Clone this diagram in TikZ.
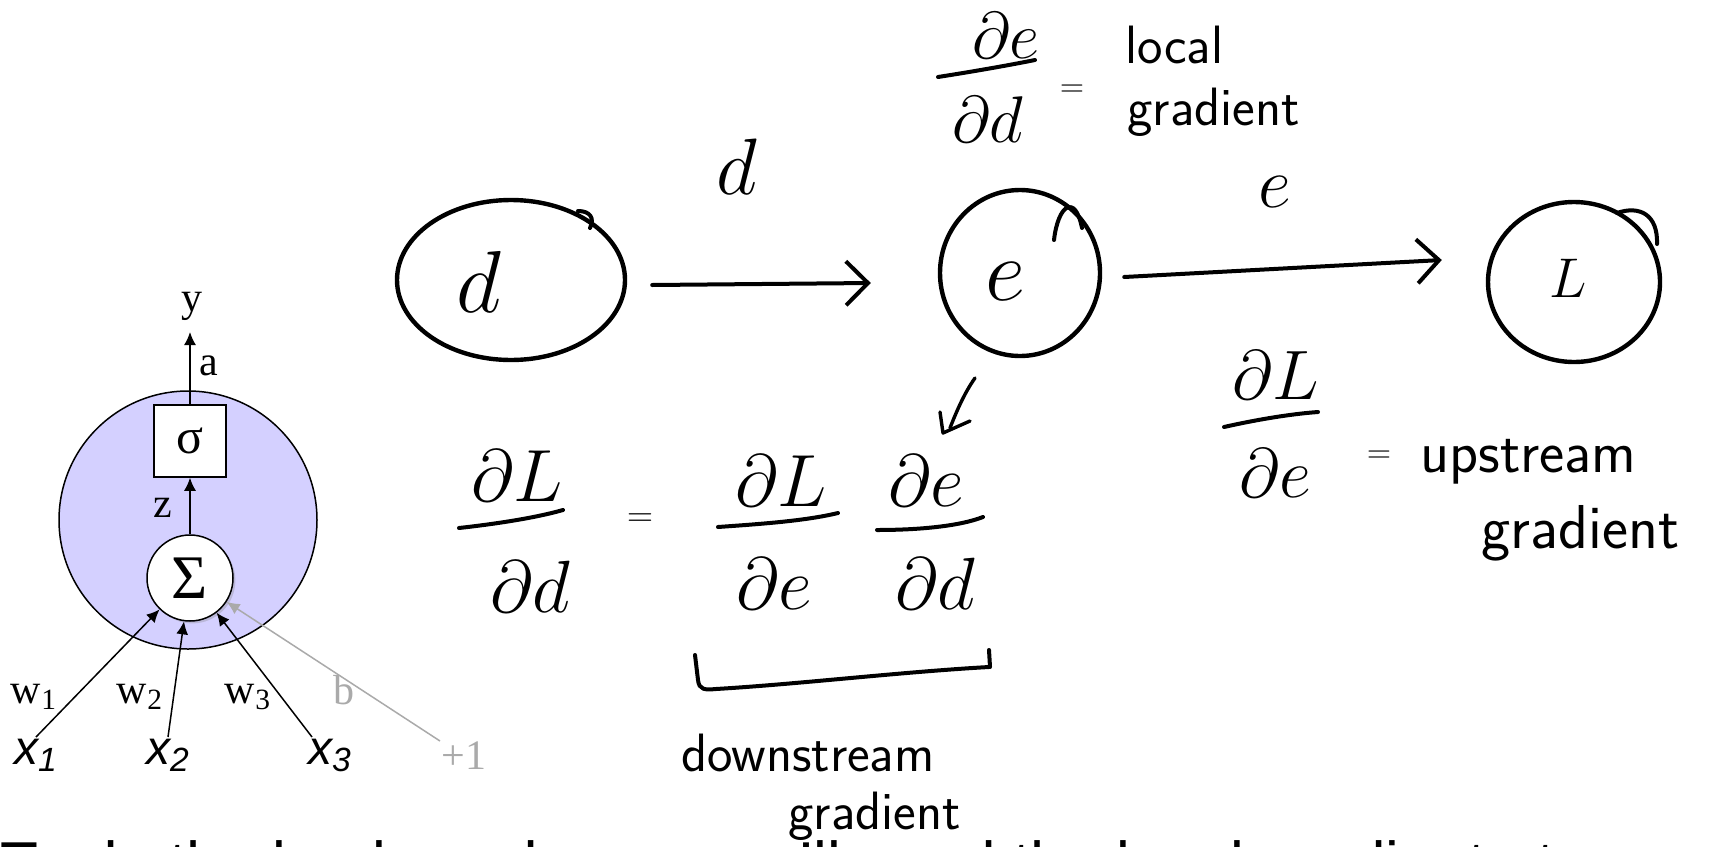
\RequirePackage{fix-cm}
\documentclass[tikz,border=0pt]{standalone}
\usepackage{fontspec}
\usetikzlibrary{arrows.meta,shapes.geometric,shadows,calc}
\newfontfamily\tnr{Liberation Serif}
\newfontfamily\hel{Liberation Sans}
\newcommand{\fsz}[1]{\fontsize{#1}{#1}\selectfont}
\definecolor{lav}{RGB}{212,208,255}
\definecolor{bgray}{RGB}{170,170,170}
\begin{document}
\begin{tikzpicture}[x=0.5pt,y=-0.5pt,
  neu/.style={line width=0.75pt},
  lbl/.style={font=\tnr\fsz{21}, inner sep=0pt},
  inp/.style={font=\hel\itshape\fsz{24}, inner sep=1pt, anchor=north},
  ntip/.style={-{Latex[length=6.5pt,width=6pt]}},
  hand/.style={line width=2pt, line cap=round, line join=round},
  harrow/.style={-{Straight Barb[length=11pt,width=22pt,line width=2pt]}},
  hnode/.style={draw, ellipse, line width=2.2pt, inner sep=0pt},
  hw/.style={font=\sffamily, inner sep=0pt},
  hm/.style={inner sep=0pt},
]
\useasboundingbox (0,0) rectangle (1733,846);

% ---------------- neuron ----------------
\node[circle, draw, fill=lav, neu, minimum size=129pt, inner sep=0pt] (neuron) at (188,520) {};
\node[rectangle, draw, fill=white, neu, minimum size=36pt, inner sep=0pt, font=\tnr\fsz{25}] (sig) at (190,441) {σ};
\node[circle, draw, fill=white, neu, minimum size=43pt, inner sep=0pt, font=\tnr\fsz{31},
      drop shadow={shadow xshift=1.2pt, shadow yshift=-1.2pt, opacity=0.3}] (sum) at (190,578) {Σ};
\coordinate (yend) at (190,332);
\draw[neu, ntip] (sum) -- (sig);
\draw[neu, ntip] (sig) -- (yend);
\node[lbl] (ylab) at (192,306) {y};
\node[lbl] (alab) at (209,366) {a};
\node[lbl] (zlab) at (163,508) {z};

\node[inp] (x1) at (36,737) {x\textsubscript{1}};
\node[inp] (x2) at (168,737) {x\textsubscript{2}};
\node[inp] (x3) at (330,737) {x\textsubscript{3}};
\node[lbl, text=bgray, anchor=north] (one) at (464,741) {+1};
\draw[neu, ntip] (x1.north) -- (sum);
\draw[neu, ntip] (x2.north) -- (sum);
\draw[neu, ntip] ([xshift=-9pt]x3.north) -- (sum);
\draw[neu, ntip, bgray] ([xshift=-12pt]one.north) -- (sum);
\node[lbl] (w1) at (34,697) {w\textsubscript{1}};
\node[lbl] (w2) at (140,697) {w\textsubscript{2}};
\node[lbl] (w3) at (248,697) {w\textsubscript{3}};
\node[lbl, text=bgray] (blab) at (344,690) {b};

% ---------------- hand-drawn graph ----------------
\node[hnode, minimum width=114pt, minimum height=80pt] (dc) at (511,280) {};
\node[hnode, minimum width=80pt, minimum height=83pt] (ec) at (1020,273) {};
\node[hnode, minimum width=86pt, minimum height=80pt] (Lc) at (1574,282) {};
\node[hm, font=\fsz{44}] (dlab) at (479,282) {$d$};
\node[hm, font=\fsz{44}] (elab) at (1005,282) {$e$};
\node[hm, font=\fsz{28}] (Llab) at (1568,278) {$L$};
\draw[hand] (578,211) .. controls (590,211) and (595,218) .. (590,228);
\draw[hand] (1054,240) .. controls (1058,205) and (1075,193) .. (1082,228);
\draw[hand] (1617,213) .. controls (1640,205) and (1658,215) .. (1657,244);

\draw[hand, harrow] ([shift={(25,5)}]dc.east) -- ([shift={(-67,10)}]ec.west);
\draw[hand, harrow] ([shift={(22,4)}]ec.east) -- ([shift={(-44,-22)}]Lc.west);
\node[hm, font=\fsz{40}] (edged) at (737,167) {$d$};
\node[hm, font=\fsz{36}] (edgee) at (1275,192) {$e$};

% local gradient
\node[hm, font=\fsz{33}] (ln) at (1006,36) {$\partial e$};
\draw[hand] (938,77) .. controls (970,72) and (1005,66) .. (1035,60);
\node[hm, font=\fsz{33}] (ld) at (988,120) {$\partial d$};
\node[hm, font=\fsz{16}] (leq) at (1072,91) {$=$};
\node[hw, font=\sffamily\fsz{27}, anchor=base west] (loc1) at (1125,63) {local};
\node[hw, font=\sffamily\fsz{27}, anchor=base west] (loc2) at (1127,125) {gradient};

% upstream gradient
\node[hm, font=\fsz{35}] (un) at (1276,375) {$\partial L$};
\draw[hand] (1224,427) .. controls (1255,420) and (1290,414) .. (1318,412);
\node[hm, font=\fsz{35}] (ud) at (1275,473) {$\partial e$};
\node[hm, font=\fsz{16}] (ueq) at (1379,457) {$=$};
\node[hw, font=\sffamily\fsz{30}, anchor=base west] (up1) at (1420,472) {upstream};
\node[hw, font=\sffamily\fsz{31}, anchor=base west] (up2) at (1481,548) {gradient};

% chain rule
\node[hm, font=\fsz{37}] (c1n) at (517,476) {$\partial L$};
\draw[hand] (459,528) .. controls (495,524) and (535,518) .. (563,510);
\node[hm, font=\fsz{37}] (c1d) at (530,587) {$\partial d$};
\node[hm, font=\fsz{18}] (ceq) at (640,520) {$=$};
\node[hm, font=\fsz{37}] (c2n) at (781,481) {$\partial L$};
\draw[hand] (718,527) .. controls (760,524) and (805,521) .. (838,513);
\node[hm, font=\fsz{37}] (c2d) at (774,584) {$\partial e$};
\node[hm, font=\fsz{37}] (c3n) at (926,481) {$\partial e$};
\draw[hand] (877,530) .. controls (920,530) and (960,526) .. (983,517);
\node[hm, font=\fsz{37}] (c3d) at (935,584) {$\partial d$};

% small arrow to local gradient
\draw[hand, line width=1.7pt] (975,378) .. controls (965,392) and (957,410) .. (950,428);
\draw[hand, line width=1.7pt] (940,412) -- (943,433) -- (970,421);

% brace
\draw[hand] (695,655) -- (698,680) .. controls (699,690) and (705,690) .. (716,689) .. controls (800,684) and (900,672) .. (989,667);
\draw[hand] (989,650) -- (990,667);
\node[hw, font=\sffamily\fsz{27}, anchor=base west] (dn1) at (681,771) {downstream};
\node[hw, font=\sffamily\fsz{27}, anchor=base west] (dn2) at (788,829) {gradient};

% cut-off line of text at the bottom
\begin{scope}
\clip (0,0) rectangle (1733,846);
\node[inner sep=0pt, anchor=base west, font=\hel\fsz{31}] (bottomline) at (0,885) {To do the backward pass, we’ll need the local gradient at every node};
\end{scope}
\end{tikzpicture}
\end{document}
